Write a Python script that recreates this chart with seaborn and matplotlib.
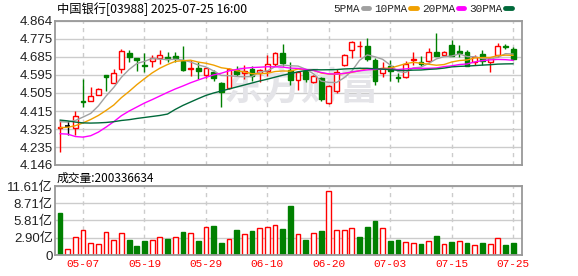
import matplotlib
matplotlib.use("Agg")
import matplotlib.pyplot as plt
from matplotlib.lines import Line2D
import numpy as np
import pandas as pd
import seaborn as sns

# trading days shown on the chart
dates = [
    "04-30", "05-02", "05-06", "05-07", "05-08", "05-09", "05-12", "05-13", "05-14", "05-15",
    "05-16", "05-19", "05-20", "05-21", "05-22", "05-23", "05-26", "05-27", "05-28", "05-29",
    "05-30", "06-02", "06-03", "06-04", "06-05", "06-06", "06-09", "06-10", "06-11", "06-12",
    "06-13", "06-16", "06-17", "06-18", "06-19", "06-20", "06-23", "06-24", "06-25", "06-26",
    "06-27", "06-30", "07-02", "07-03", "07-04", "07-07", "07-08", "07-09", "07-10", "07-11",
    "07-14", "07-15", "07-16", "07-17", "07-18", "07-21", "07-22", "07-23", "07-24", "07-25",
]

opens = [
    4.330, 4.340, 4.328, 4.466, 4.467, 4.497, 4.594, 4.557, 4.627, 4.702,
    4.679, 4.645, 4.666, 4.680, 4.686, 4.690, 4.667, 4.625, 4.632, 4.595,
    4.612, 4.553, 4.532, 4.620, 4.607, 4.624, 4.604, 4.615, 4.649, 4.703,
    4.620, 4.572, 4.617, 4.562, 4.580, 4.455, 4.516, 4.644, 4.720, 4.737,
    4.738, 4.672, 4.607, 4.640, 4.585, 4.583, 4.671, 4.660, 4.663, 4.708,
    4.692, 4.742, 4.713, 4.710, 4.662, 4.700, 4.662, 4.693, 4.738, 4.724,
]
highs = [
    4.370, 4.364, 4.414, 4.574, 4.534, 4.530, 4.596, 4.624, 4.723, 4.721,
    4.680, 4.703, 4.695, 4.720, 4.708, 4.708, 4.737, 4.670, 4.660, 4.634,
    4.622, 4.560, 4.632, 4.640, 4.644, 4.640, 4.624, 4.693, 4.710, 4.748,
    4.660, 4.615, 4.622, 4.597, 4.585, 4.545, 4.624, 4.700, 4.762, 4.762,
    4.780, 4.680, 4.660, 4.672, 4.603, 4.665, 4.708, 4.690, 4.731, 4.805,
    4.714, 4.770, 4.742, 4.720, 4.695, 4.720, 4.684, 4.755, 4.750, 4.735,
]
lows = [
    4.210, 4.295, 4.295, 4.436, 4.465, 4.495, 4.516, 4.555, 4.607, 4.660,
    4.613, 4.609, 4.633, 4.652, 4.660, 4.658, 4.614, 4.590, 4.577, 4.580,
    4.563, 4.435, 4.527, 4.590, 4.577, 4.566, 4.560, 4.590, 4.640, 4.640,
    4.545, 4.520, 4.560, 4.556, 4.466, 4.452, 4.505, 4.640, 4.678, 4.686,
    4.665, 4.543, 4.587, 4.563, 4.562, 4.580, 4.645, 4.640, 4.653, 4.689,
    4.690, 4.689, 4.685, 4.638, 4.645, 4.643, 4.612, 4.686, 4.723, 4.672,
]
closes = [
    4.336, 4.340, 4.390, 4.458, 4.492, 4.524, 4.586, 4.604, 4.712, 4.686,
    4.672, 4.640, 4.678, 4.692, 4.676, 4.680, 4.620, 4.630, 4.617, 4.628,
    4.580, 4.508, 4.624, 4.600, 4.615, 4.590, 4.620, 4.652, 4.703, 4.657,
    4.572, 4.612, 4.574, 4.590, 4.475, 4.538, 4.610, 4.693, 4.758, 4.741,
    4.673, 4.563, 4.631, 4.613, 4.580, 4.650, 4.676, 4.650, 4.708, 4.690,
    4.708, 4.690, 4.703, 4.642, 4.685, 4.665, 4.680, 4.741, 4.735, 4.675,
]
# volume in 亿 (1e8 shares)
volumes = [
    7.12, 0.95, 2.97, 4.15, 1.96, 1.85, 3.81, 2.47, 3.65, 2.52,
    1.51, 2.36, 2.47, 2.97, 2.69, 2.97, 3.87, 3.65, 2.36, 4.66,
    4.88, 2.02, 2.64, 4.21, 3.48, 4.04, 4.49, 4.66, 4.99, 4.38,
    8.25, 3.48, 2.52, 3.65, 4.04, 10.72, 4.15, 4.15, 4.49, 3.03,
    4.71, 5.72, 4.49, 2.36, 2.52, 2.19, 2.02, 1.85, 2.36, 3.20,
    1.85, 2.19, 2.36, 2.02, 1.63, 2.02, 1.85, 2.81, 1.68, 2.003,
]
prev_close = 4.397

# moving averages before a full window is available
ma5_head = [4.362, 4.360, 4.368, 4.385]
ma10_head = [4.332, 4.334, 4.342, 4.356, 4.373, 4.393, 4.418, 4.445, 4.482]
ma20_head = [4.302, 4.300, 4.288, 4.285, 4.292, 4.310, 4.335, 4.362, 4.392, 4.415,
             4.435, 4.455, 4.472, 4.490, 4.508, 4.525, 4.540, 4.556, 4.570]
ma30_head = [4.370, 4.366, 4.360, 4.356, 4.355, 4.356, 4.358, 4.362, 4.368, 4.372,
             4.378, 4.383, 4.388, 4.393, 4.400, 4.423, 4.443, 4.460, 4.477, 4.493,
             4.505, 4.515, 4.525, 4.535, 4.545, 4.555, 4.565, 4.574, 4.584]

price_tick_labels = ["4.146", "4.235", "4.325", "4.415", "4.505", "4.595", "4.685", "4.775", "4.864"]
vol_ticks = [0, 2.90, 5.81, 8.71, 11.61]
vol_tick_labels = ["0", "2.90亿", "5.81亿", "8.71亿", "11.61亿"]
label_dates = ["05-07", "05-19", "05-29", "06-10", "06-20", "07-03", "07-15", "07-25"]

UP = "#ff0000"
DOWN = "#008000"
MA_COLORS = {"5PMA": "#a0a0a0", "10PMA": "#f0a000", "20PMA": "#ff00ff", "30PMA": "#00693a"}
GRID = "#cccccc"
FRAME = "#999999"


def moving_average(close, window, head):
    ma = close.rolling(window).mean()
    ma.iloc[:len(head)] = head
    return ma


def style_axis(ax):
    ax.set_axisbelow(True)
    ax.grid(axis="y", color=GRID, lw=1, ls="-")
    ax.grid(axis="x", color=GRID, lw=1, ls=(0, (3, 3)))
    for sp in ax.spines.values():
        sp.set_color(FRAME)
        sp.set_linewidth(1.3)
    ax.tick_params(length=0, pad=1.5, labelsize=9.5, labelcolor="#222222")
    ax.set_xlabel("")
    ax.set_ylabel("")


sns.set_theme(style="white")
plt.rcParams["font.family"] = ["Liberation Sans", "Noto Sans CJK SC", "DejaVu Sans"]

df = pd.DataFrame({"date": dates, "open": opens, "high": highs,
                   "low": lows, "close": closes, "volume": volumes})
df["x"] = np.arange(len(df))
df["ma5"] = moving_average(df["close"], 5, ma5_head)
df["ma10"] = moving_average(df["close"], 10, ma10_head)
df["ma20"] = moving_average(df["close"], 20, ma20_head)
df["ma30"] = moving_average(df["close"], 30, ma30_head)

ma_long = df.melt(id_vars="x", value_vars=["ma5", "ma10", "ma20", "ma30"],
                  var_name="ma", value_name="value")
ma_long["ma"] = ma_long["ma"].map({"ma5": "5PMA", "ma10": "10PMA",
                                   "ma20": "20PMA", "ma30": "30PMA"})

fig = plt.figure(figsize=(5.78, 2.76), dpi=100)
ax_price = fig.add_axes([55 / 578, (276 - 165) / 276, 467 / 578, 144 / 276])
ax_vol = fig.add_axes([55 / 578, (276 - 255) / 276, 467 / 578, 69 / 276])

label_pos = [dates.index(d) for d in label_dates]
width = 0.62

# candles
for _, row in df.iterrows():
    o, c = row["open"], row["close"]
    if c > o:
        col, face = UP, "white"
    elif c < o:
        col, face = DOWN, DOWN
    else:
        col, face = "#000000", "#000000"
    ax_price.vlines(row["x"], row["low"], row["high"], color=col, lw=1, zorder=2)
    if c == o:
        ax_price.hlines(c, row["x"] - width / 2, row["x"] + width / 2, color=col, lw=1.2, zorder=3)
    else:
        ax_price.bar(row["x"], abs(c - o), bottom=min(o, c), width=width,
                     color=face, edgecolor=col, linewidth=1, zorder=3)

sns.lineplot(data=ma_long, x="x", y="value", hue="ma", palette=MA_COLORS,
             linewidth=1, legend=False, ax=ax_price, zorder=4)

price_ticks = [float(t) for t in price_tick_labels]
ax_price.set_xlim(-0.65, 60.15)
ax_price.set_ylim(price_ticks[0], price_ticks[-1])
ax_price.set_yticks(price_ticks)
ax_price.set_yticklabels(price_tick_labels)
ax_price.set_xticks(label_pos)
ax_price.tick_params(axis="x", labelbottom=False)
style_axis(ax_price)

ax_price.text(301 / 578, 1 - 89 / 276, "东方财富", transform=fig.transFigure,
              fontsize=28, fontweight="bold", color="#e4e4e8",
              family=["Noto Sans CJK SC"], ha="center", va="center", zorder=1)

# volume bars, coloured by change against previous close
prev = df["close"].shift(1).fillna(prev_close)
up = df["close"] >= prev
ax_vol.bar(df["x"], df["volume"], width=width,
           color=np.where(up, "white", DOWN),
           edgecolor=np.where(up, UP, DOWN), linewidth=1, zorder=2)
ax_vol.set_xlim(-0.65, 60.15)
ax_vol.set_ylim(0, vol_ticks[-1])
ax_vol.set_yticks(vol_ticks)
ax_vol.set_yticklabels(vol_tick_labels)
ax_vol.set_xticks(label_pos)
ax_vol.set_xticklabels(label_dates)
style_axis(ax_vol)
ax_vol.tick_params(axis="x", pad=3, labelcolor=UP, labelsize=8)
for lbl in ax_vol.get_xticklabels():
    lbl.set_family("Liberation Mono")

# header texts
fig.text(57 / 578, 1 - 9 / 276, "中国银行[03988] 2025-07-25 16:00", fontsize=8.8,
         family=["Noto Sans CJK SC"], ha="left", va="center", color="#000000")
fig.text(57 / 578, 1 - 178 / 276, "成交量:200336634", fontsize=8.5,
         family=["Noto Sans CJK SC"], ha="left", va="center", color="#000000")

handles = [Line2D([], [], color=c, lw=3.5) for c in MA_COLORS.values()]
fig.legend(handles, list(MA_COLORS.keys()), loc="center right",
           bbox_to_anchor=(512 / 578, 1 - 9 / 276), ncol=4, markerfirst=False,
           frameon=False, prop={"family": "Liberation Mono", "size": 8},
           handlelength=0.6, handletextpad=0.25, columnspacing=0.45,
           borderaxespad=0, borderpad=0)

fig.savefig("out.png", dpi=100)
